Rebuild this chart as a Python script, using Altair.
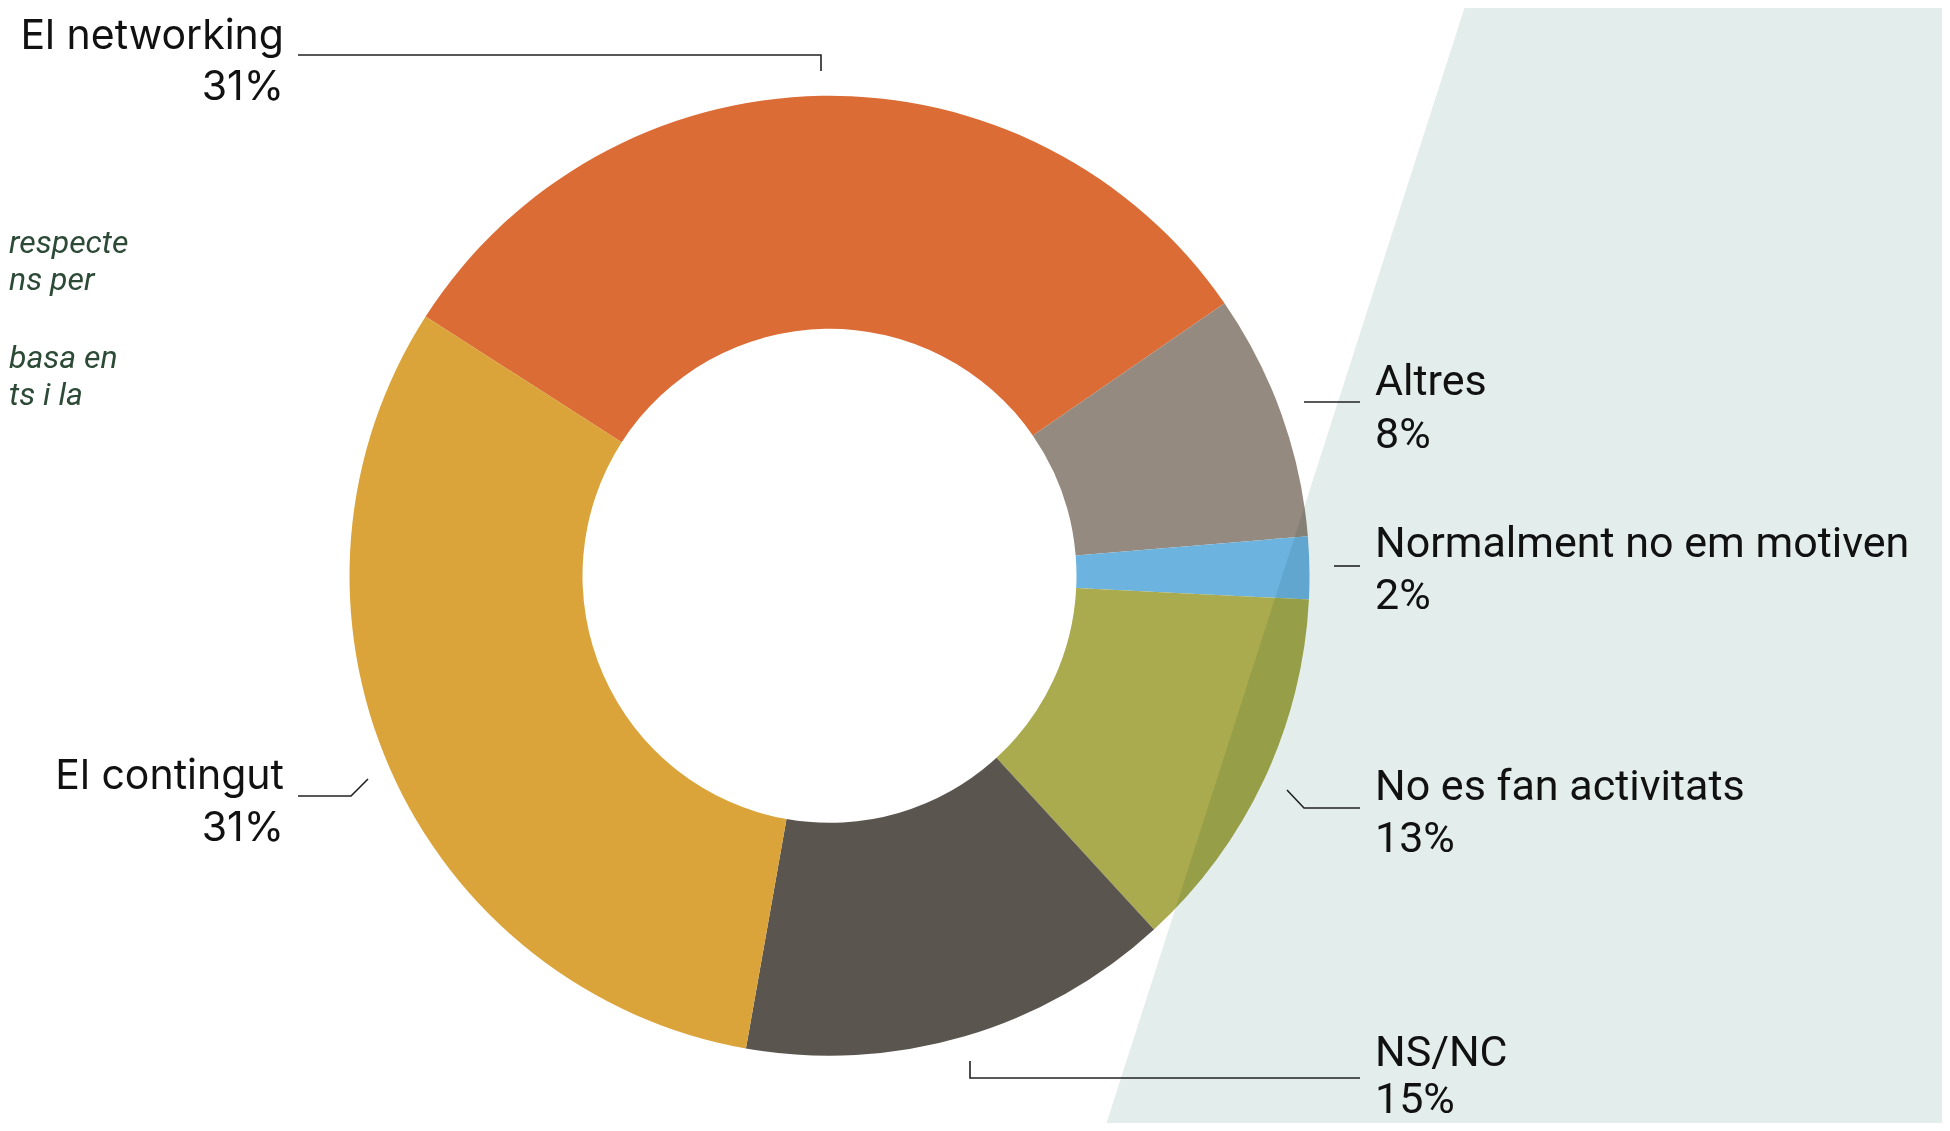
import altair as alt
import pandas as pd

# ---- data ----
categories = ["El networking", "Altres", "Normalment no em motiven",
              "No es fan activitats", "NS/NC", "El contingut"]
values = [31.3, 8.3, 2.1, 12.4, 14.6, 31.3]
pct_labels = ["31%", "8%", "2%", "13%", "15%", "31%"]
colors = ["#dc6c36", "#958a7f", "#6db3e0", "#aaaa4e", "#5a554f", "#dba43a"]

# ---- layout (screen pixel coordinates of the reference) ----
label_x = [284, 1375, 1375, 1375, 1375, 284]
label_y1 = [49, 395, 557, 800, 1066, 789]
label_y2 = [100, 448, 609, 852, 1113, 841]
label_align = ["right", "left", "left", "left", "left", "right"]

leader_x = [[298, 821, 821], [1304, 1360], [1334, 1360], [1287, 1304, 1360],
            [970, 970, 1360], [298, 351, 368]]
leader_y = [[55, 55, 71], [402, 402], [566, 566], [790, 808, 808],
            [1061, 1078, 1078], [796, 796, 779]]

frag_text = ["respecte", "ns per", "basa en", "ts i la"]
frag_x = [9, 9, 9, 9]
frag_y = [253, 290, 368, 405]

band_y = [0, 1131]
band_x = [1467, 1104]
band_x2 = [1950, 1950]

W, H = 1934, 1115
xs = alt.Scale(domain=[8, 8 + W], range=[0, W])
ys = alt.Scale(domain=[8, 8 + H], range=[0, H])

pie_df = pd.DataFrame({"cat": categories, "val": values,
                       "idx": list(range(len(categories)))})
TAU = 2 * 3.141592653589793
start = TAU - 1.0

pie = alt.Chart(pie_df).mark_arc(
    innerRadius=247, outerRadius=480, x=821.5, y=567.8
).encode(
    theta=alt.Theta("val:Q", stack=True,
                    scale=alt.Scale(range=[start, start + TAU])),
    color=alt.Color("cat:N", scale=alt.Scale(domain=categories, range=colors),
                    legend=None),
    order=alt.Order("idx:Q"),
)

band_df = pd.DataFrame({"y": band_y, "x": band_x, "x2": band_x2})
band = alt.Chart(band_df).mark_area(
    orient="horizontal", color="#e3edeb", blend="multiply"
).encode(
    y=alt.Y("y:Q", scale=ys, axis=None),
    x=alt.X("x:Q", scale=xs, axis=None),
    x2="x2:Q",
)

rows = []
for g, (lx, ly) in enumerate(zip(leader_x, leader_y)):
    for s, (px, py) in enumerate(zip(lx, ly)):
        rows.append({"g": g, "s": s, "x": px, "y": py})
lead_df = pd.DataFrame(rows)
leaders = alt.Chart(lead_df).mark_line(color="#222222", strokeWidth=1.6).encode(
    x=alt.X("x:Q", scale=xs, axis=None),
    y=alt.Y("y:Q", scale=ys, axis=None),
    detail="g:N",
    order="s:Q",
)

lab_df = pd.DataFrame({"cat": categories, "pct": pct_labels, "x": label_x,
                       "y1": label_y1, "y2": label_y2, "al": label_align})
left_df = lab_df[lab_df["al"] == "right"]
right_df = lab_df[lab_df["al"] == "left"]


def text_layer(df, field, ycol, align, font, size):
    return alt.Chart(df).mark_text(
        align=align, baseline="alphabetic", font=font, fontSize=size,
        color="#111111"
    ).encode(
        x=alt.X("x:Q", scale=xs, axis=None),
        y=alt.Y(f"{ycol}:Q", scale=ys, axis=None),
        text=f"{field}:N",
    )


texts = [
    text_layer(left_df, "cat", "y1", "right", "Inter", 41),
    text_layer(left_df, "pct", "y2", "right", "Inter", 41),
    text_layer(right_df, "cat", "y1", "left", "Roboto", 43),
    text_layer(right_df, "pct", "y2", "left", "Roboto", 43),
]

frag_df = pd.DataFrame({"t": frag_text, "x": frag_x, "y": frag_y})
frags = alt.Chart(frag_df).mark_text(
    align="left", baseline="alphabetic", font="Roboto", fontSize=32,
    fontStyle="italic", color="#2c4a36"
).encode(
    x=alt.X("x:Q", scale=xs, axis=None),
    y=alt.Y("y:Q", scale=ys, axis=None),
    text="t:N",
)

chart = alt.layer(pie, band, leaders, frags, *texts).properties(
    width=W, height=H, padding=0,
    autosize=alt.AutoSizeParams(type="none"),
    background="white",
).configure_view(stroke=None)

chart.save("out.html", embed_options={"renderer": "svg", "actions": False})
